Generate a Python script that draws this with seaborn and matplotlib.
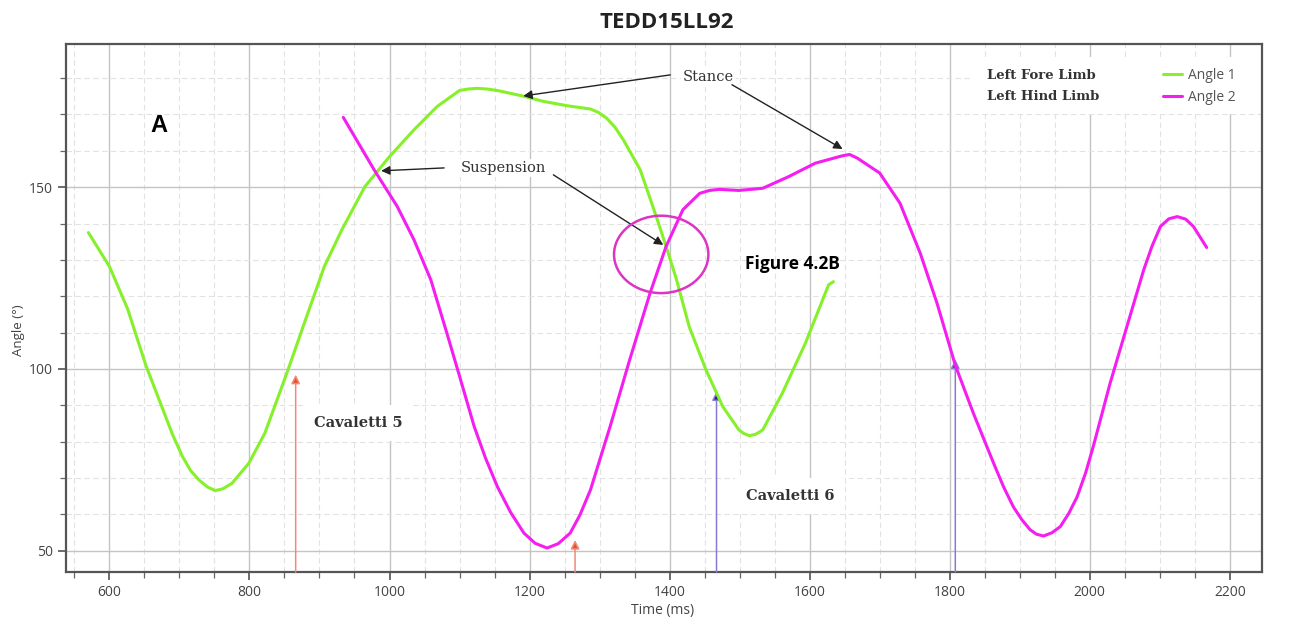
import numpy as np
import pandas as pd
import matplotlib
matplotlib.use("Agg")
import matplotlib.pyplot as plt
from matplotlib.patches import Ellipse, Rectangle
from matplotlib.ticker import MultipleLocator
import seaborn as sns

# ---------------- data ----------------
angle1_time = [570, 600, 626, 652, 676, 690, 704, 716, 728, 740, 751, 762, 775, 799, 822,
               855, 880, 907, 932, 965, 1000, 1035, 1068, 1100, 1112, 1125, 1140, 1154,
               1190, 1220, 1254, 1287, 1298, 1310, 1322, 1334, 1358, 1381, 1395, 1410,
               1428, 1452, 1476, 1499, 1506, 1514, 1523, 1533, 1561, 1594, 1627, 1634]
angle1_value = [137.5, 128.2, 116.5, 101.0, 89.0, 82.0, 76.0, 72.0, 69.4, 67.5, 66.5,
                67.0, 68.5, 74.0, 82.3, 99.7, 113.5, 128.2, 138.3, 150.2, 158.4, 165.8,
                172.2, 176.6, 177.0, 177.2, 177.0, 176.6, 175.1, 173.6, 172.4, 171.5,
                170.6, 169.0, 166.5, 163.0, 154.8, 141.9, 133.7, 124.5, 111.6, 99.7,
                89.6, 83.2, 82.2, 81.6, 82.0, 83.2, 93.3, 107.1, 123.1, 124.0]

angle2_time = [934, 978, 1011, 1035, 1059, 1082, 1100, 1121, 1137, 1154, 1173, 1192, 1208,
               1225, 1241, 1258, 1272, 1287, 1300, 1315, 1343, 1372, 1395, 1419, 1443,
               1457, 1471, 1499, 1533, 1570, 1608, 1646, 1657, 1668, 1700, 1729, 1758,
               1782, 1808, 1834, 1863, 1877, 1891, 1903, 1915, 1924, 1934, 1946, 1958,
               1970, 1982, 1994, 2005, 2029, 2053, 2077, 2089, 2101, 2113, 2125, 2137,
               2148, 2167]
angle2_value = [169.2, 154.8, 144.7, 135.5, 124.5, 109.8, 98.0, 84.1, 75.5, 67.6, 60.5,
                54.8, 52.0, 50.7, 51.9, 54.8, 59.8, 66.7, 74.8, 84.1, 102.5, 120.8, 133.7,
                143.8, 148.3, 149.1, 149.4, 149.1, 149.7, 152.9, 156.6, 158.6, 159.0,
                158.0, 153.9, 145.6, 131.8, 118.0, 101.0, 87.7, 73.9, 67.5, 62.0, 58.5,
                55.7, 54.5, 54.0, 54.9, 56.6, 60.2, 64.8, 71.3, 78.6, 96.0, 111.6, 127.2,
                133.8, 139.2, 141.3, 141.9, 141.2, 139.2, 133.4]

series_labels = ["Angle 1", "Angle 2"]
limb_labels = ["Left Fore Limb", "Left Hind Limb"]
title_text = "TEDD15LL92"
xlabel_text = "Time (ms)"
ylabel_text = "Angle (°)"

# cavaletti markers: (time, tip angle)
cav5_times = [866, 1265]
cav5_tips = [98.4, 52.9]
cav6_times = [1467, 1808]
cav6_tips = [93.8, 102.6]

# ---------------- style ----------------
sns.set_style("white")
plt.rcParams["font.family"] = ["Open Sans", "DejaVu Sans"]

green = "#86f02a"
magenta = "#f41ef0"

fig = plt.figure(figsize=(12.9, 6.32), dpi=100)
ax = fig.add_axes([66 / 1290, 1 - 572 / 632, 1196 / 1290, 528 / 632])

df1 = pd.DataFrame({"time": angle1_time, "angle": angle1_value})
df2 = pd.DataFrame({"time": angle2_time, "angle": angle2_value})
sns.lineplot(data=df1, x="time", y="angle", sort=False, color=green, lw=2.2,
             solid_joinstyle="round", solid_capstyle="round",
             ax=ax, label=series_labels[0], zorder=4)
sns.lineplot(data=df2, x="time", y="angle", sort=False, color=magenta, lw=2.2,
             solid_joinstyle="round", solid_capstyle="round",
             ax=ax, label=series_labels[1], zorder=4)

ax.set_xlim(538, 2246)
ax.set_ylim(44.1, 189.4)

ax.xaxis.set_major_locator(MultipleLocator(200))
ax.xaxis.set_minor_locator(MultipleLocator(50))
ax.yaxis.set_major_locator(MultipleLocator(50))
ax.yaxis.set_minor_locator(MultipleLocator(10))

ax.grid(which="major", color="#c4c4c4", lw=1.0, ls="-", zorder=0)
ax.grid(which="minor", color="#e2e2e2", lw=0.8, ls=(0, (5, 3)), zorder=0)
ax.set_axisbelow(True)

for s in ax.spines.values():
    s.set_color("#555555")
    s.set_linewidth(1.6)

ax.tick_params(which="major", direction="out", length=6, width=1.1, color="#444444",
               labelsize=10, labelcolor="#444444", bottom=True, left=True)
ax.tick_params(which="minor", direction="out", length=4, width=0.9, color="#666666",
               bottom=True, left=True)

ax.set_xlabel(xlabel_text, fontsize=10, color="#444444")
ax.set_ylabel(ylabel_text, fontsize=9.5, color="#444444")
ax.xaxis.set_label_coords(0.499, -0.072)
ax.yaxis.set_label_coords(-0.040, 0.458)
ax.xaxis.label.set_va("center")
ax.yaxis.label.set_va("center")

fig.text(667 / 1290, 1 - 22 / 632, title_text, ha="center", va="center",
         fontsize=16, fontweight="bold", color="#222222")

# white box behind legend area
ax.add_patch(Rectangle((1830, 170.0), 416, 15.8, facecolor="white", edgecolor="none",
                       zorder=1))

# legend
handles, _ = ax.get_legend_handles_labels()
leg = ax.legend(handles, series_labels, loc="upper left", bbox_to_anchor=(0.9172, 0.9545),
                frameon=False, fontsize=10, handlelength=1.37, handletextpad=0.43,
                labelspacing=0.5, borderpad=0, borderaxespad=0)
for t in leg.get_texts():
    t.set_color("#555555")

serif = ["DejaVu Serif"]
ax.text(1853, 180.6, limb_labels[0], family=serif, fontsize=9.5, fontweight="bold",
        color="#333333", va="center", ha="left", zorder=5)
ax.text(1853, 174.9, limb_labels[1], family=serif, fontsize=9.5, fontweight="bold",
        color="#333333", va="center", ha="left", zorder=5)

# panel letter and figure note
ax.text(670, 167.1, "A", fontsize=17, fontweight="bold", ha="center", va="center",
        family=["Liberation Sans", "DejaVu Sans"], color="black", zorder=5)
ax.text(1575, 128.9, "Figure 4.2B", fontsize=12.5, fontweight="bold", ha="center",
        va="center", color="black", zorder=5)

# stance / suspension annotations
box = dict(facecolor="white", edgecolor="none", pad=1.5)
ax.text(1455, 180.3, "Stance", family=serif, fontsize=10.5, color="#333333",
        ha="center", va="center", bbox=box, zorder=5)
ax.text(1162, 155.2, "Suspension", family=serif, fontsize=10.5, color="#333333",
        ha="center", va="center", bbox=box, zorder=5)

black_arrow = dict(arrowstyle="-|>", color="#222222", lw=1.0, mutation_scale=13,
                   shrinkA=0, shrinkB=0)
ax.annotate("", xy=(1191, 175.1), xytext=(1401, 180.9), arrowprops=black_arrow, zorder=6)
ax.annotate("", xy=(1647, 160.5), xytext=(1489, 178.2), arrowprops=black_arrow, zorder=6)
ax.annotate("", xy=(988, 154.5), xytext=(1078, 155.3), arrowprops=black_arrow, zorder=6)
ax.annotate("", xy=(1391, 134.1), xytext=(1234, 153.4), arrowprops=black_arrow, zorder=6)

# highlight ellipse
ax.add_patch(Ellipse((1388, 131.5), 134.7, 21.3, facecolor="none", edgecolor="#dc34c4",
                     lw=1.8, zorder=6))

# cavaletti arrows
y0 = ax.get_ylim()[0]
for t, tip in zip(cav5_times, cav5_tips):
    ax.annotate("", xy=(t, tip), xytext=(t, y0),
                arrowprops=dict(arrowstyle="-|>", edgecolor="#f08a78", facecolor="#e8502a",
                                lw=1.1, mutation_scale=13, shrinkA=0, shrinkB=0),
                zorder=3, annotation_clip=False)
for t, tip in zip(cav6_times, cav6_tips):
    ax.annotate("", xy=(t, tip), xytext=(t, y0),
                arrowprops=dict(arrowstyle="-|>", edgecolor="#8a7ad8", facecolor="#2a1890",
                                lw=1.1, mutation_scale=13, shrinkA=0, shrinkB=0),
                zorder=3, annotation_clip=False)

cav_box = dict(facecolor="white", edgecolor="none", pad=8)
ax.text(955, 85.2, "Cavaletti 5", family=serif, fontsize=10.5, fontweight="bold",
        color="#333333", ha="center", va="center", bbox=cav_box, zorder=2)
ax.text(1572, 65.0, "Cavaletti 6", family=serif, fontsize=10.5, fontweight="bold",
        color="#333333", ha="center", va="center", bbox=cav_box, zorder=2)

fig.savefig("out.png", dpi=100, facecolor="white")
